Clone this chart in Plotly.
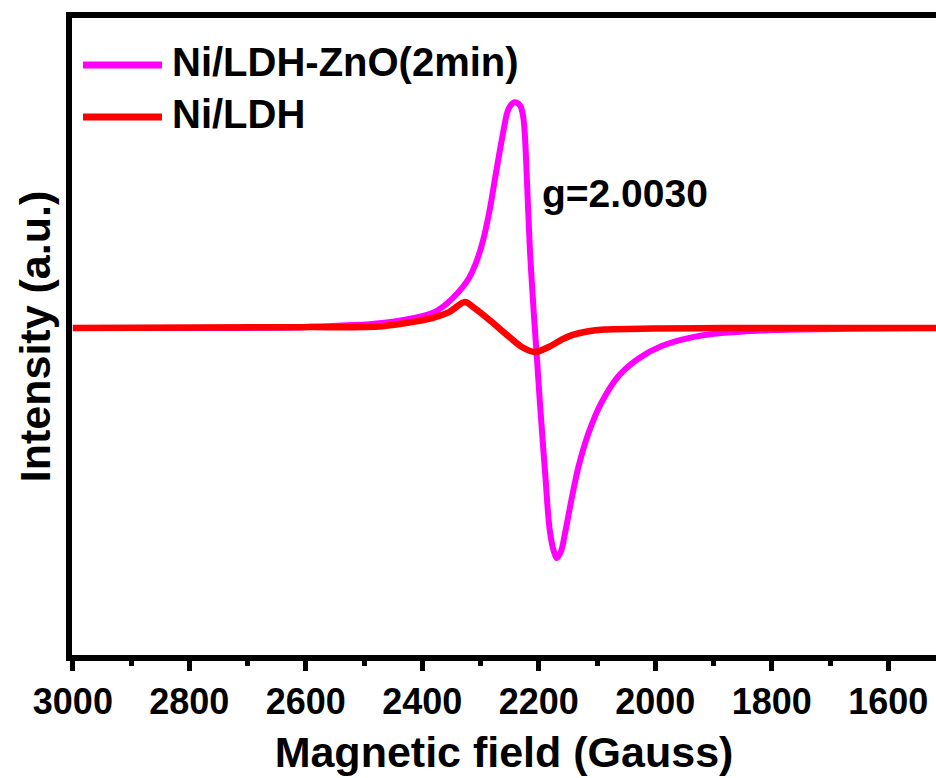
import plotly.graph_objects as go

# Data (field in Gauss, normalized intensity)
field_zno = [3000, 2777, 2606, 2537, 2469, 2383, 2361, 2332, 2320, 2309, 2297, 2285, 2275, 2263, 2254,
             2249, 2241, 2232, 2227, 2224, 2220, 2215, 2208, 2203, 2198, 2189, 2181, 2174, 2169,
             2162, 2155, 2143, 2131, 2114, 2092, 2063, 2028, 1989, 1943, 1886, 1817, 1749, 1578, 1500]
int_zno = [0.0, 0.0, 0.004, 0.011, 0.022, 0.066, 0.101, 0.175, 0.218, 0.278, 0.372, 0.509, 0.658, 0.833, 0.947,
           0.975, 0.99, 0.975, 0.93, 0.85, 0.627, 0.333, 0.044, -0.14, -0.33, -0.64, -0.89, -0.98, -1.009,
           -0.98, -0.90, -0.741, -0.60, -0.456, -0.325, -0.21, -0.132, -0.079, -0.044, -0.022, -0.011, -0.006, -0.001, 0.0]

field_ldh = [3000, 2606, 2469, 2383, 2354, 2327, 2309, 2280, 2251, 2229, 2207, 2183, 2160, 2143,
             2117, 2087, 2006, 1886, 1500]
int_ldh = [0.0, 0.004, 0.008, 0.044, 0.070, 0.114, 0.085, 0.025, -0.038, -0.083, -0.105, -0.083,
           -0.05, -0.031, -0.015, -0.006, -0.002, 0.0, 0.0]

series_names = ["Ni/LDH-ZnO(2min)", "Ni/LDH"]
series_colors = ["#FF00FF", "#FF0000"]
x_ticks = [3000, 2800, 2600, 2400, 2200, 2000, 1800, 1600]
g_label = "g=2.0030"

FONT = "Liberation Sans, Arial, sans-serif"

W, H = 936, 778
ML, MR, MT, MB = 72, 0, 18, 123
x_range = [3001.5, 1518]
y_range = [-1.434, 1.36]

fig = go.Figure()
fig.add_trace(go.Scatter(x=field_zno, y=int_zno, mode="lines", name=series_names[0],
                         line=dict(color=series_colors[0], width=6, shape="spline", smoothing=1.0),
                         showlegend=False))
fig.add_trace(go.Scatter(x=field_ldh, y=int_ldh, mode="lines", name=series_names[1],
                         line=dict(color=series_colors[1], width=6.5, shape="spline", smoothing=0.8),
                         showlegend=False))

pw = W - ML - MR
ph = H - MT - MB

def px_to_paper_x(px):
    return (px - ML) / pw

def px_to_paper_y(py):
    return (H - MB - py) / ph

# Custom legend (line samples + labels)
legend_rows = [(65, 62), (117, 114)]
for (ly, ty), name, col in zip(legend_rows, series_names, series_colors):
    fig.add_shape(type="line", xref="paper", yref="paper",
                  x0=px_to_paper_x(83), x1=px_to_paper_x(162),
                  y0=px_to_paper_y(ly), y1=px_to_paper_y(ly),
                  line=dict(color=col, width=7))
    fig.add_annotation(xref="paper", yref="paper", x=px_to_paper_x(170), y=px_to_paper_y(ty),
                       text=name, showarrow=False, xanchor="left", yanchor="middle",
                       font=dict(family=FONT, size=40, color="black", weight="bold"))

fig.add_annotation(xref="paper", yref="paper", x=px_to_paper_x(540), y=px_to_paper_y(193),
                   text=g_label, showarrow=False, xanchor="left", yanchor="middle",
                   font=dict(family=FONT, size=39, color="black", weight="bold"))

fig.update_layout(
    width=W, height=H,
    margin=dict(l=ML, r=MR, t=MT, b=MB, autoexpand=False),
    paper_bgcolor="white", plot_bgcolor="white",
    font=dict(family=FONT, color="black"),
    xaxis=dict(
        range=x_range, showgrid=False, zeroline=False, automargin=False,
        showline=True, linecolor="black", linewidth=6, mirror=True,
        ticks="outside", ticklen=10, tickwidth=5, tickcolor="black",
        tickvals=x_ticks, ticktext=[str(v) for v in x_ticks],
        tickfont=dict(family=FONT, size=36, color="black", weight="bold"),
        minor=dict(ticks="outside", ticklen=5, tickwidth=5, tickcolor="black", dtick=100, tick0=0),
        title=dict(text="Magnetic field (Gauss)", standoff=18,
                   font=dict(family=FONT, size=43, color="black", weight="bold")),
    ),
    yaxis=dict(
        range=y_range, showgrid=False, zeroline=False, automargin=False,
        showline=True, linecolor="black", linewidth=6, mirror=False,
        ticks="", showticklabels=False,
        title=dict(text="Intensity (a.u.)", standoff=4,
                   font=dict(family=FONT, size=43, color="black", weight="bold")),
    ),
)

fig.write_html("out.html")
